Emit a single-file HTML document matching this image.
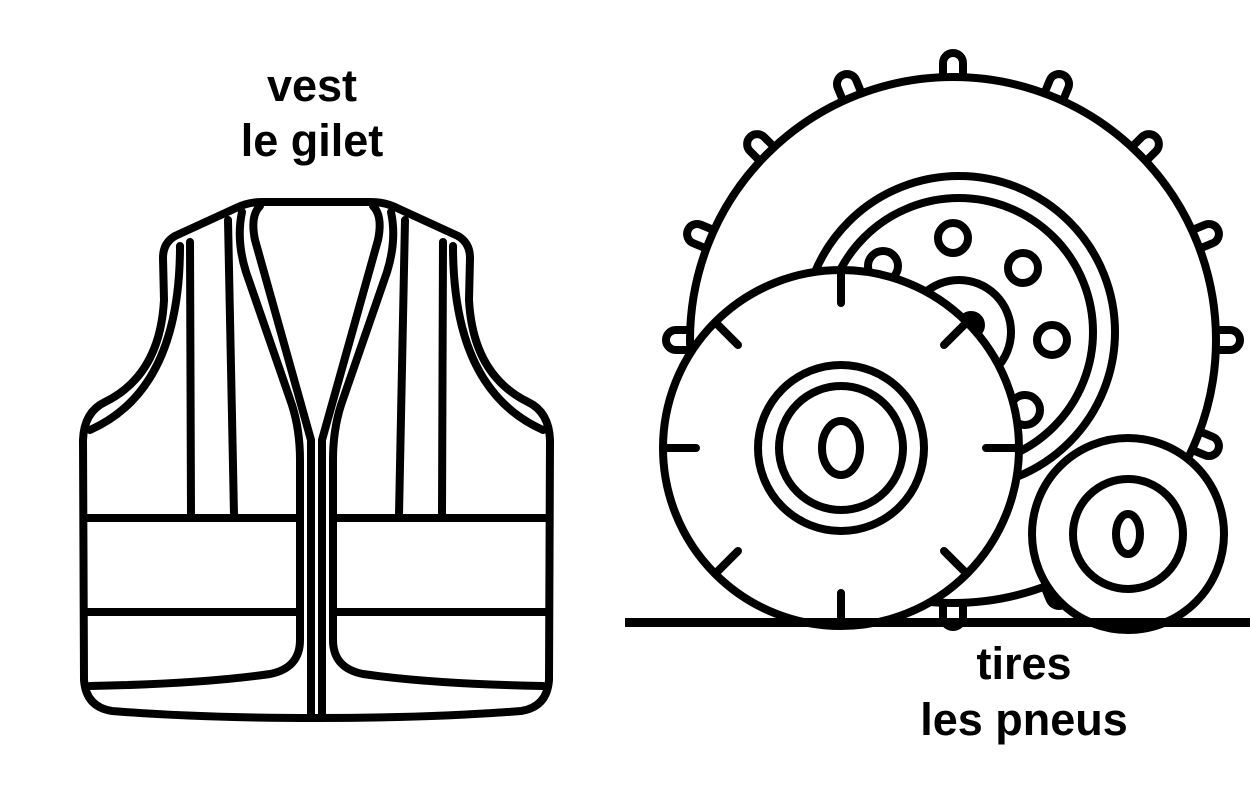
<!DOCTYPE html>
<html><head><meta charset="utf-8"><style>
html,body{margin:0;padding:0;background:#fff;width:1250px;height:800px;overflow:hidden}
svg{display:block}
text{font-family:"Liberation Sans",sans-serif;font-weight:bold;font-size:45px;fill:#000;text-anchor:middle}
</style></head><body>
<svg width="1250" height="800" viewBox="0 0 1250 800">
<text x="312" y="101">vest</text>
<text x="312" y="156">le gilet</text>
<text x="1024" y="679">tires</text>
<text x="1024" y="735">les pneus</text>

<g fill="none" stroke="#000" stroke-width="8" stroke-linecap="round" stroke-linejoin="round">
  <g id="half">
    <path d="M316 202 L262 202 Q248 202 236 208 L175 236 Q163 243 163 258 L164 300 Q160 375 105 402 Q84 412 83 440 L84 680 Q86 707 112 711 Q200 718 316 718" fill="#fff"/>
    <path d="M180 246 Q180 390 90 430"/>
    <path d="M260 206 Q250 216 255 240 L311 440 L311 718"/>
    <path d="M242 212 Q236 240 246 272 L292 405 Q300 430 300 460 L300 640 Q300 668 270 674 Q200 684 90 686"/>
    <path d="M190 242 L191 515"/>
    <path d="M228 220 L234 515"/>
    <path d="M86 518 L298 518"/>
    <path d="M86 612 L298 612"/>
  </g>
  <use href="#half" transform="translate(633,0) scale(-1,1)"/>
</g>

<g stroke="#000" stroke-width="8" fill="#fff" stroke-linecap="round">
  <g transform="translate(953,340)">
    <g id="lug"><rect x="-10" y="-287" width="20" height="35" rx="10"/></g>
    <use href="#lug" transform="rotate(22.5)"/><use href="#lug" transform="rotate(45)"/>
    <use href="#lug" transform="rotate(67.5)"/><use href="#lug" transform="rotate(90)"/>
    <use href="#lug" transform="rotate(112.5)"/><use href="#lug" transform="rotate(135)"/>
    <use href="#lug" transform="rotate(157.5)"/><use href="#lug" transform="rotate(180)"/>
    <use href="#lug" transform="rotate(-22.5)"/><use href="#lug" transform="rotate(-45)"/>
    <use href="#lug" transform="rotate(-67.5)"/><use href="#lug" transform="rotate(-90)"/>
    <circle r="263"/>
  </g>
  <circle cx="959" cy="332" r="156"/>
  <circle cx="959" cy="332" r="134"/>
  <circle cx="953" cy="238" r="15"/>
  <circle cx="1023" cy="268" r="15"/>
  <circle cx="1052" cy="340" r="15"/>
  <circle cx="1025" cy="410" r="15"/>
  <circle cx="883" cy="266" r="15"/>
  <circle cx="959" cy="332" r="52"/>
  <circle cx="971" cy="325" r="10" fill="#000"/>

  <circle cx="841" cy="448" r="178"/>
  <g fill="none">
    <path d="M841 274 L841 303 M841 622 L841 593 M667 448 L696 448 M1015 448 L986 448 M718 325 L738 345 M964 325 L944 345 M718 571 L738 551 M964 571 L944 551"/>
    <circle cx="841" cy="448" r="83"/>
    <circle cx="841" cy="448" r="62"/>
    <ellipse cx="841" cy="448" rx="19" ry="27"/>
  </g>

  <circle cx="1128" cy="534" r="96"/>
  <circle cx="1128" cy="534" r="55" fill="none"/>
  <ellipse cx="1128" cy="534" rx="12" ry="20" fill="none"/>
</g>
<rect x="625" y="618" width="625" height="9" fill="#000"/>
</svg>
</body></html>
